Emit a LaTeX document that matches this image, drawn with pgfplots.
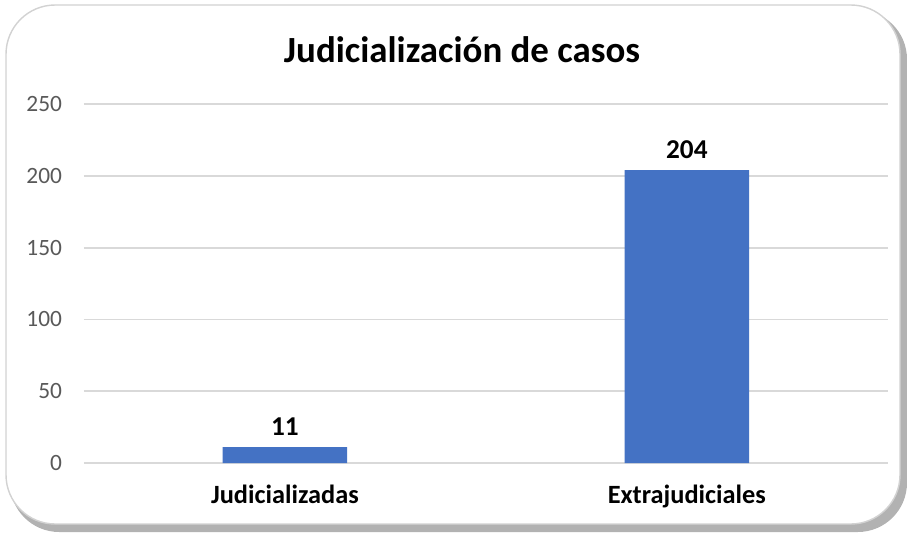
\documentclass[border=0pt]{standalone}
\usepackage{fontspec}
\setmainfont{Carlito}
\usepackage{pgfplots}
\pgfplotsset{compat=1.18}
\definecolor{barblue}{HTML}{4472C4}
\definecolor{gridgray}{HTML}{D9D9D9}
\definecolor{ticktext}{HTML}{595959}

\begin{document}
\begin{tikzpicture}[x=0.02cm,y=0.02cm]
% canvas and frame
\path (0,0) rectangle (907,532);
\fill[gray!60,rounded corners=28] (10,0) rectangle (907,522);
\fill[white,draw=gray!35,line width=0.8pt,rounded corners=28] (6,8) rectangle (900,527);
\node[font=\fontsize{21}{24}\selectfont\bfseries] at (462,482) {Judicialización de casos};

\begin{axis}[
  at={(1.68cm,1.38cm)}, anchor=south west,
  scale only axis,
  width=16.08cm, height=7.18cm,
  xmin=-0.5, xmax=1.5,
  ymin=0, ymax=250,
  ytick={0,50,...,250},
  xtick=data,
  xticklabels={Judicializadas,Extrajudiciales},
  axis line style={draw=none},
  major tick length=0pt,
  ymajorgrids,
  grid style={gridgray,line width=1pt},
  yticklabel style={font=\fontsize{13.3}{15}\selectfont,text=ticktext,xshift=-9pt},
  xticklabel style={font=\fontsize{15}{17}\selectfont\bfseries,yshift=-9pt},
  /pgf/number format/assume math mode=true,
  clip=false,
  nodes near coords,
  every node near coord/.append style={font=\fontsize{15.5}{17}\selectfont\bfseries,yshift=3pt},
]
\addplot[ybar,bar width=0.31,fill=barblue,draw=none] coordinates {
(0,11)
(1,204)
};
\end{axis}
\end{tikzpicture}
\end{document}
